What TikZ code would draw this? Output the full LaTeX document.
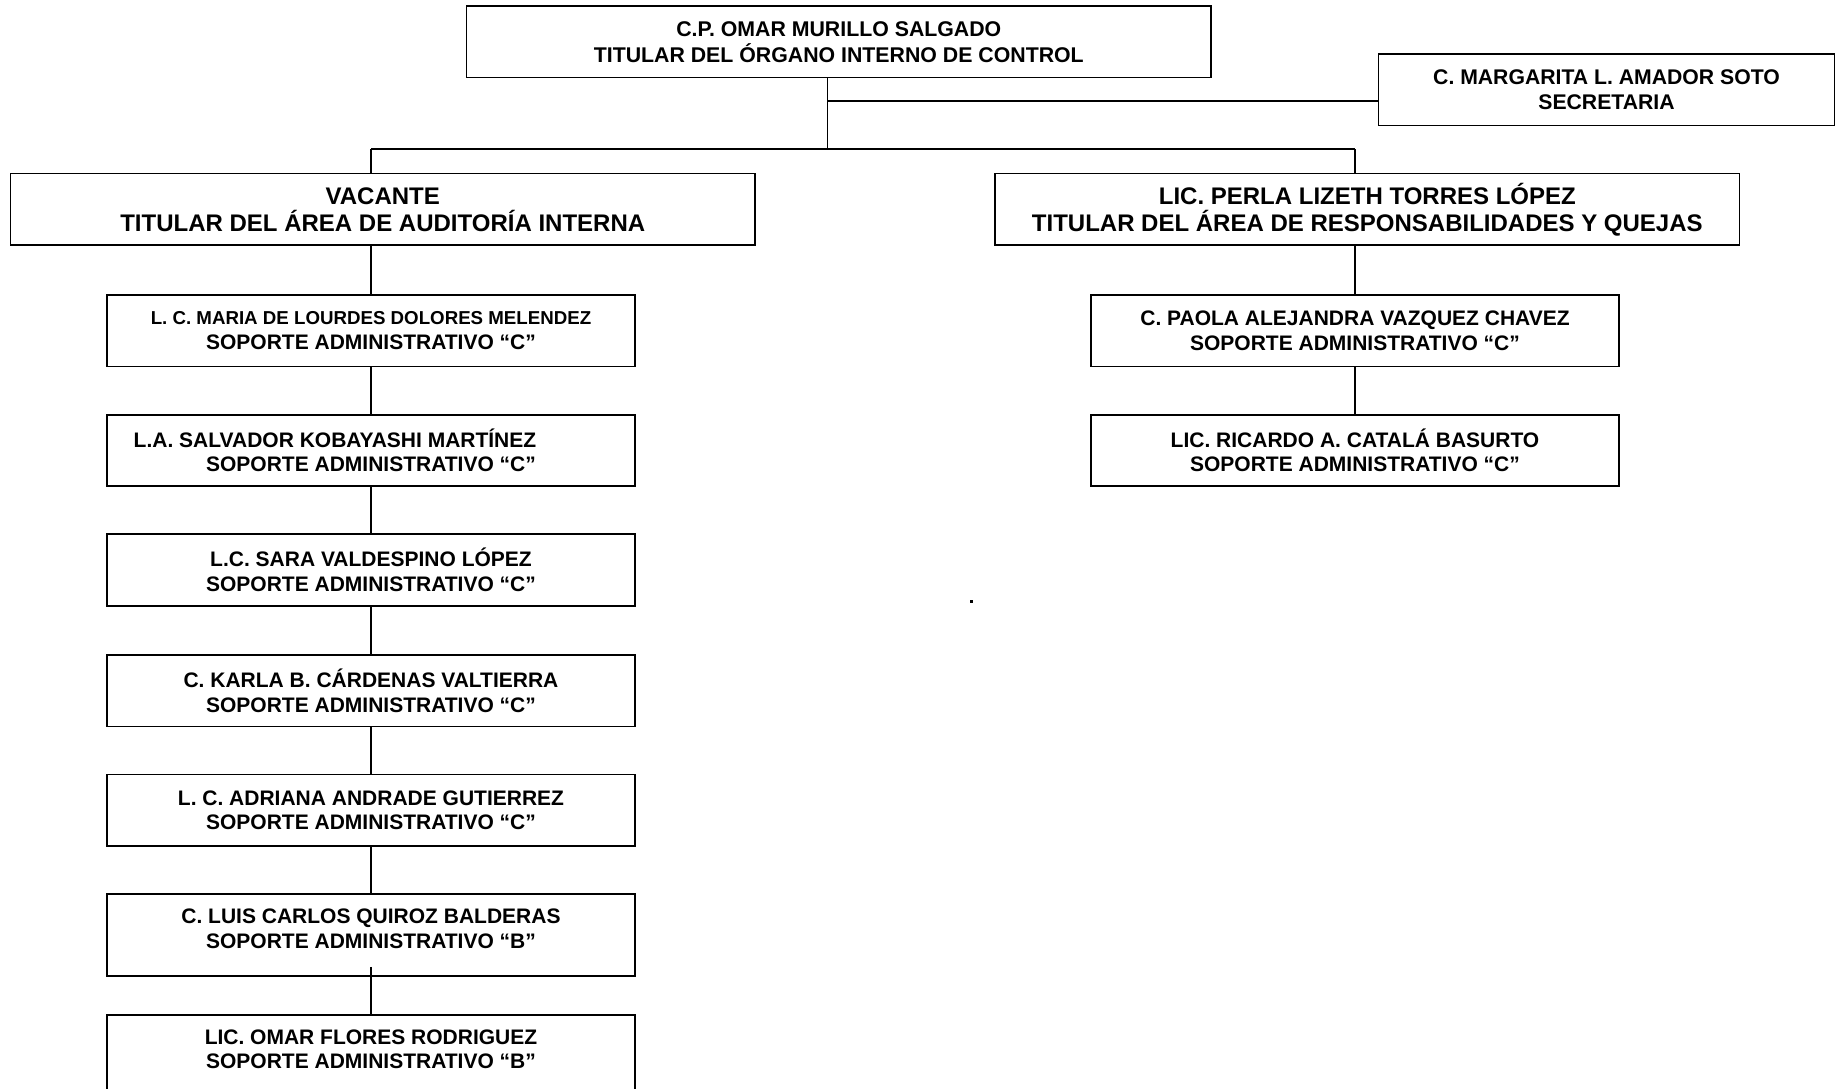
\documentclass[tikz,border=0pt]{standalone}
\usepackage{fontspec}
\setmainfont{Liberation Sans}
\begin{document}
\begin{tikzpicture}[x=1pt,y=-1pt,
  boxstyle/.style={draw=black,line width=1.7pt,rectangle,inner sep=0pt,align=center,font=\bfseries},
  topbox/.style={boxstyle,minimum width=744.5pt,minimum height=71.4pt,font=\bfseries\fontsize{21.3}{26}\selectfont},
  secbox/.style={boxstyle,minimum width=456pt,minimum height=71.4pt,font=\bfseries\fontsize{21.2}{24.6}\selectfont},
  headbox/.style={boxstyle,minimum width=744.5pt,minimum height=71.5pt,font=\bfseries\fontsize{24}{27}\selectfont},
  subbox/.style={boxstyle,minimum width=528.6pt,minimum height=71.5pt,anchor=north,font=\bfseries\fontsize{21}{24.6}\selectfont},
  subtext/.style={inner sep=0pt,align=center,font=\bfseries\fontsize{21}{24.6}\selectfont},
  conn/.style={draw=black,line width=1.4pt}]
\useasboundingbox (0,0) rectangle (1838,1088);
\clip (0,0) rectangle (1838,1088);
\fill[white] (0,0) rectangle (1838,1088);

% top level
\node[topbox] (top) at (838.8,41.7) {C.P. OMAR MURILLO SALGADO\\TITULAR DEL ÓRGANO INTERNO DE CONTROL};
\node[secbox] (sec) at (1606.5,89.7) {C. MARGARITA L. AMADOR SOTO\\SECRETARIA};

% heads
\node[headbox] (l1) at (382.75,209.25) {VACANTE\\TITULAR DEL ÁREA DE AUDITORÍA INTERNA};
\node[headbox,minimum width=744.6pt] (r1) at (1367.3,209.25) {LIC. PERLA LIZETH TORRES LÓPEZ\\TITULAR DEL ÁREA DE RESPONSABILIDADES Y QUEJAS};

% left column
\node[subbox] (b1) at (371,294.2) {{\fontsize{18.7}{24.6}\selectfont L. C. MARIA DE LOURDES DOLORES MELENDEZ}\\SOPORTE ADMINISTRATIVO “C”};
\node[subbox] (b2) at (371,413.8) {L.A. SALVADOR KOBAYASHI MARTÍNEZ\hspace*{72pt}\\SOPORTE ADMINISTRATIVO “C”};
\node[subbox] (b3) at (371,533.3) {L.C. SARA VALDESPINO LÓPEZ\\SOPORTE ADMINISTRATIVO “C”};
\node[subbox] (b4) at (371,654.1) {C. KARLA B. CÁRDENAS VALTIERRA\\SOPORTE ADMINISTRATIVO “C”};
\node[subbox] (b5) at (371,773.7) {L. C. ADRIANA ANDRADE GUTIERREZ\\SOPORTE ADMINISTRATIVO “C”};
\node[subbox,minimum height=82pt] (b6) at (371,893.2) {};
\node[subtext] (t6) at (371,928.5) {C. LUIS CARLOS QUIROZ BALDERAS\\SOPORTE ADMINISTRATIVO “B”};
\node[subbox,minimum height=110pt] (b7) at (371,1014) {};
\node[subtext] (t7) at (371,1049.3) {LIC. OMAR FLORES RODRIGUEZ\\SOPORTE ADMINISTRATIVO “B”};

% right column
\node[subbox,minimum width=527.5pt] (c1) at (1355,294.2) {C. PAOLA ALEJANDRA VAZQUEZ CHAVEZ\\SOPORTE ADMINISTRATIVO “C”};
\node[subbox,minimum width=527.5pt] (c2) at (1355,413.8) {LIC. RICARDO A. CATALÁ BASURTO\\SOPORTE ADMINISTRATIVO “C”};

% junctions
\coordinate (j) at (827.6,149);
\coordinate (js) at (827.6,101);
\coordinate (lj) at (371,149);
\coordinate (rj) at (1355,149);

% connectors
\draw[conn] (top.south -| j) -- (j);
\draw[conn] (js) -- (js -| sec.west);
\draw[conn] (lj) -- (rj);
\draw[conn] (lj) -- (lj |- l1.north);
\draw[conn] (rj) -- (rj |- r1.north);
\draw[conn] (b1.north |- l1.south) -- (b1.north);
\draw[conn] (b1.south) -- (b2.north);
\draw[conn] (b2.south) -- (b3.north);
\draw[conn] (b3.south) -- (b4.north);
\draw[conn] (b4.south) -- (b5.north);
\draw[conn] (b5.south) -- (b6.north);
\draw[conn] ([yshift=10pt]b6.south) -- (b7.north);
\draw[conn] (c1.north |- r1.south) -- (c1.north);
\draw[conn] (c1.south) -- (c2.north);

% stray dot
\fill[black] (970,600) rectangle (972.5,602.5);
\end{tikzpicture}
\end{document}
